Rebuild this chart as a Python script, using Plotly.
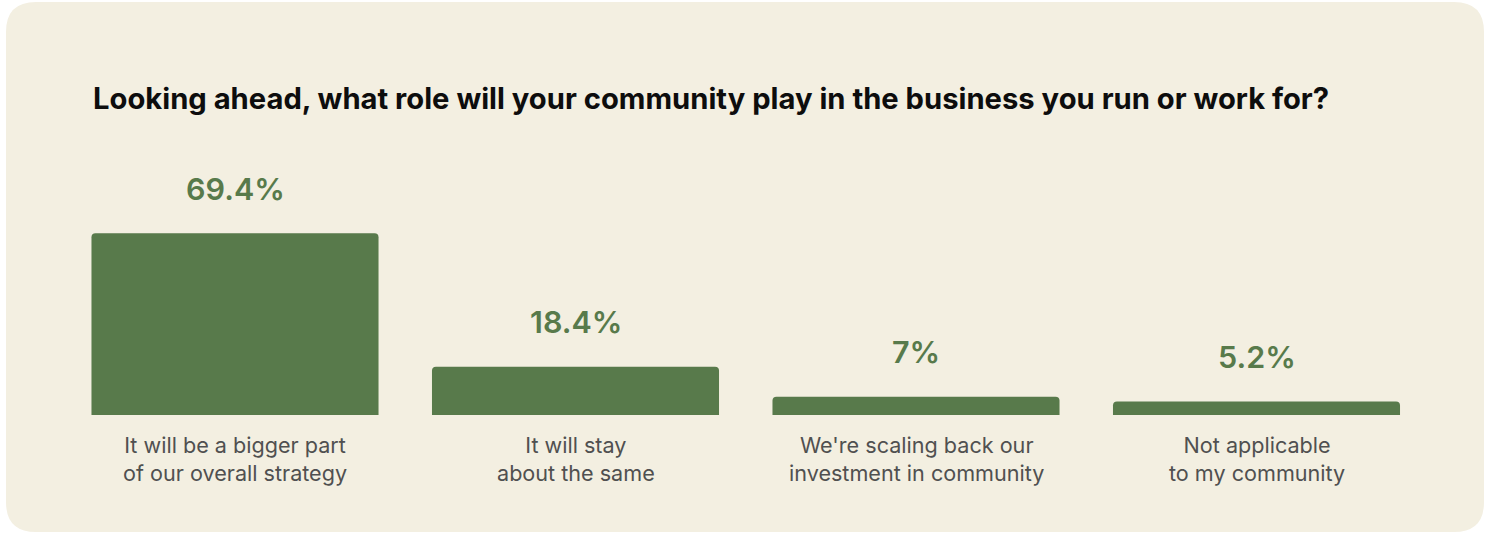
import plotly.graph_objects as go

# Survey responses
categories = [
    "It will be a bigger part<br>of our overall strategy",
    "It will stay<br>about the same",
    "We're scaling back our<br>investment in community",
    "Not applicable<br>to my community",
]
values = [69.4, 18.4, 7, 5.2]
value_labels = ["69.4%", "18.4%", "7%", "5.2%"]
title_text = "Looking ahead, what role will your community play in the business you run or work for?"

W, H = 1486, 534
GREEN = "#587A4B"
CARD = "#F3EFE1"
FONT = "Inter"

x = list(range(len(categories)))

fig = go.Figure(
    go.Bar(
        x=x,
        y=values,
        width=0.843,
        marker=dict(color=GREEN, cornerradius=4, line=dict(width=0)),
        hoverinfo="skip",
    )
)

# rounded card behind the chart (paper coords span the whole figure)
def px_x(p):
    return p / W

def px_y(p):
    return 1 - p / H

cx0, cx1, cy0, cy1, r = 6, 1484, 2, 532, 30
path = (
    f"M {px_x(cx0 + r)} {px_y(cy0)} "
    f"L {px_x(cx1 - r)} {px_y(cy0)} "
    f"Q {px_x(cx1)} {px_y(cy0)} {px_x(cx1)} {px_y(cy0 + r)} "
    f"L {px_x(cx1)} {px_y(cy1 - r)} "
    f"Q {px_x(cx1)} {px_y(cy1)} {px_x(cx1 - r)} {px_y(cy1)} "
    f"L {px_x(cx0 + r)} {px_y(cy1)} "
    f"Q {px_x(cx0)} {px_y(cy1)} {px_x(cx0)} {px_y(cy1 - r)} "
    f"L {px_x(cx0)} {px_y(cy0 + r)} "
    f"Q {px_x(cx0)} {px_y(cy0)} {px_x(cx0 + r)} {px_y(cy0)} Z"
)
fig.add_shape(type="path", path=path, xref="paper", yref="paper",
              fillcolor=CARD, line=dict(width=0), layer="below")

annotations = [
    dict(
        text=title_text, xref="paper", yref="paper",
        x=px_x(91), y=px_y(98), xanchor="left", yanchor="middle",
        showarrow=False,
        font=dict(family=FONT, size=29.2, color="#0D0D0D", weight=700),
    )
]

for xi, v, lab in zip(x, values, value_labels):
    annotations.append(dict(
        text=lab, x=xi, y=v, xref="x", yref="y",
        xanchor="center", yanchor="middle", yshift=45, showarrow=False,
        font=dict(family=FONT, size=30.5, color=GREEN, weight=600),
    ))

for xi, cat in zip(x, categories):
    annotations.append(dict(
        text=cat, x=xi, y=0, xref="x", yref="y",
        xanchor="center", yanchor="middle", yshift=-44,
        showarrow=False,
        font=dict(family=FONT, size=21.6, color="#505050"),
    ))

# axis ranges chosen so bar centres sit 340.5 px apart
x_c0, x_step = 235, 340.5
y_base, y_scale = 415, 2.62
fig.update_layout(
    width=W, height=H,
    margin=dict(l=0, r=0, t=0, b=0),
    paper_bgcolor="white",
    plot_bgcolor="rgba(0,0,0,0)",
    showlegend=False,
    xaxis=dict(range=[-x_c0 / x_step, (W - x_c0) / x_step], visible=False, fixedrange=True),
    yaxis=dict(range=[-(H - y_base) / y_scale, y_base / y_scale], visible=False, fixedrange=True),
    annotations=annotations,
)

fig.write_html("out.html", config={"displayModeBar": False})
